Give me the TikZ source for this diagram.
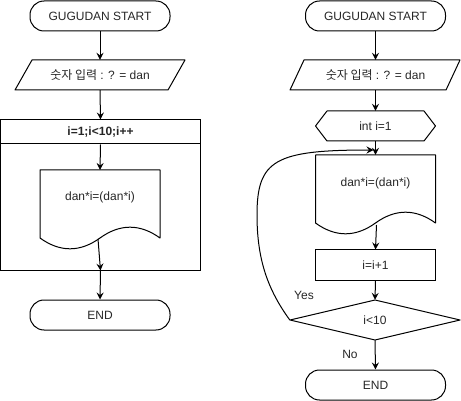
\documentclass[tikz,border=0pt]{standalone}
\usepackage{fontspec}
\setmainfont{Liberation Sans}
\newfontfamily\krfont{Noto Sans CJK KR}
\usetikzlibrary{arrows.meta}
\begin{document}
\begin{tikzpicture}[x=1pt,y=-1pt,
  every node/.style={font=\fontsize{12}{14}\selectfont, text=black!85},
  line/.style={line width=1pt, line join=round},
  arr/.style={line width=1pt,-{Stealth[length=7pt,width=7pt,inset=2.5pt]}},
  term/.style={draw,line width=1pt,rounded corners=14pt,minimum width=140pt,minimum height=30pt,inner sep=0pt},
  proc/.style={draw,line width=1pt,minimum width=120pt,minimum height=30pt,inner sep=0pt},
  blank/.style={inner sep=0pt,minimum height=30pt},
]
\useasboundingbox (0,0) rectangle (461,401);

% ---------- left column ----------
\node[term] (s1) at (100,16) {GUGUDAN START};
\draw[line] (32,60) -- (185,60) -- (168,90) -- (15,90) -- cycle;
\node[blank, minimum width=150pt] (in1) at (100,75) {{\krfont 숫자 입력} : ? = dan};
\node[draw, line width=1pt, minimum width=200pt, minimum height=24pt, inner sep=0pt] (hdr) at (100.5,132) {\bfseries i=1;i<10;i++};
\node[draw, line width=1pt, minimum width=200pt, minimum height=126pt, inner sep=0pt] (body) at (100.5,207) {};
\draw[line] (40,170) -- (160,170) -- (160,238)
  .. controls (140,223.6) and (120,223.6) .. (100,238)
  .. controls (80,252.4) and (60,252.4) .. (40,238) -- cycle;
\node[blank, minimum width=120pt] (t1) at (100,197) {dan*i=(dan*i)};
\coordinate (d1top) at (100,170);
\coordinate (w1) at (98,239);
\node[term] (e1) at (100,315) {END};

\draw[arr] (s1.south) -- (in1.north);
\draw[arr] (in1.south) -- (hdr.north);
\draw[arr] (hdr.south) -- (d1top);
\draw[arr] (w1) -- (body.south);
\draw[arr] (body.south) -- (e1.north);

% ---------- right column ----------
\node[term] (s2) at (375.5,16) {GUGUDAN START};
\draw[line] (304,60) -- (460,60) -- (446,90) -- (290,90) -- cycle;
\node[blank, minimum width=150pt] (in2) at (375.5,75) {{\krfont 숫자 입력} : ? = dan};
\draw[line] (315.5,126) -- (327,111) -- (424,111) -- (435.5,126) -- (424,141) -- (327,141) -- cycle;
\node[blank, minimum width=120pt] (h) at (375.5,126) {int i=1};
\draw[line] (315.5,155) -- (435.5,155) -- (435.5,223)
  .. controls (415.5,208.6) and (395.5,208.6) .. (375.5,223)
  .. controls (355.5,237.4) and (335.5,237.4) .. (315.5,223) -- cycle;
\node[blank, minimum width=120pt, minimum height=80pt] (doc2) at (375.5,195) {};
\node[blank, minimum width=120pt] (t2) at (375.5,183) {dan*i=(dan*i)};
\coordinate (w2) at (376.5,225);
\node[proc] (inc) at (375.5,265) {i=i+1};
\draw[line] (290,320) -- (375,300) -- (460,320) -- (375,340) -- cycle;
\node[blank, minimum width=170pt, minimum height=40pt] (dec) at (375,320) {i<10};
\node[term] (e2) at (375.5,385) {END};
\coordinate (ltip) at (373.5,150);
\node[inner sep=0pt] (yes) at (304,295) {Yes};
\node[inner sep=0pt] (no) at (350,354) {No};

\draw[arr] (s2.south) -- (in2.north);
\draw[arr] (in2.south) -- (h.north);
\draw[arr] (h.south) -- (doc2.north);
\draw[arr] (w2) -- (inc.north);
\draw[arr] (inc.south) -- (dec.north);
\draw[arr] (dec.south) -- (e2.north);
\draw[arr] (dec.west) .. controls (268,290) and (257,260) .. (257,215)
  .. controls (257,160) and (275,150) .. (ltip);
\end{tikzpicture}
\end{document}
